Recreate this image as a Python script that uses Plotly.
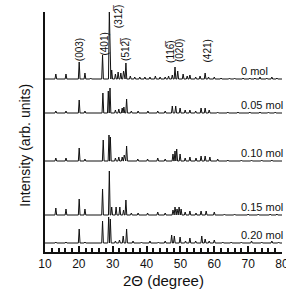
import plotly.graph_objects as go

# ---------------- data ----------------
samples = ["0 mol", "0.05 mol", "0.10 mol", "0.15 mol", "0.20 mol"]
offsets = [173, 139, 91, 37, 9]  # vertical stacking offsets (arb. units)

pos_0 = [13.2, 16.2, 20.1, 21.8, 23.5, 27.0, 29.0, 29.7, 30.8, 31.6, 32.4, 33.2, 33.9, 35.2, 36.5, 38.0,
         39.5, 41.0, 42.6, 44.0, 45.5, 46.5, 47.6, 48.4, 49.2, 50.8, 52.0, 52.8, 54.5, 55.8, 57.3, 58.3,
         60.0, 62.0, 64.5, 66.0, 68.5, 70.5, 72.0, 73.5, 75.5, 77.0, 78.5]
int_0 = [5, 5, 17, 6, 1, 24, 68, 9, 5, 7, 6, 8, 16, 3, 2, 2,
         2, 2, 3, 2, 2, 3, 4, 12, 8, 5, 3, 4, 2, 3, 6, 2,
         2, 1, 1, 1, 1, 1, 1, 2, 1, 2, 1]

pos_005 = [13.2, 16.2, 20.1, 21.8, 27.1, 28.7, 29.2, 30.8, 31.8, 32.8, 33.3, 34.1, 35.5, 37.5, 40.4, 43.3,
           45.5, 47.6, 48.6, 49.9, 51.4, 52.8, 54.5, 56.1, 57.3, 58.5, 61.0, 64.0, 67.0, 70.5, 73.5, 76.0, 78.0]
int_005 = [2, 2, 13, 2, 20, 22, 25, 3, 4, 5, 6, 14, 2, 2, 2, 2,
           2, 7, 7, 5, 3, 3, 2, 5, 5, 3, 1, 1, 1, 1, 1, 1, 1]

pos_010 = [13.2, 16.2, 20.1, 21.8, 27.2, 28.9, 29.3, 30.8, 31.8, 32.8, 33.4, 34.1, 37.4, 40.3, 43.3, 45.5,
           47.8, 48.4, 48.9, 49.9, 51.4, 52.8, 54.6, 56.1, 57.3, 58.7, 61.0, 64.0, 68.0, 71.0, 74.0, 77.0]
int_010 = [3, 3, 13, 2, 21, 26, 24, 3, 4, 4, 6, 15, 2, 2, 3, 2,
           7, 10, 12, 7, 3, 4, 3, 5, 5, 4, 2, 1, 1, 1, 1, 1]

pos_015 = [13.2, 16.2, 20.1, 21.8, 27.0, 29.0, 29.7, 31.0, 32.1, 33.2, 33.9, 35.5, 37.5, 40.3, 43.3, 45.5,
           47.8, 48.4, 49.0, 49.6, 50.2, 51.4, 52.8, 54.6, 56.1, 57.6, 60.0, 63.0, 66.0, 70.0, 73.0, 76.5, 78.5]
int_015 = [7, 6, 16, 6, 26, 44, 8, 8, 8, 5, 15, 2, 2, 2, 3, 2,
           5, 8, 6, 8, 6, 3, 4, 2, 4, 4, 3, 1, 1, 1, 1, 1, 1]

pos_020 = [13.2, 16.2, 20.1, 21.8, 27.0, 28.8, 29.3, 30.8, 32.0, 33.1, 34.1, 36.0, 38.5, 41.0, 43.5, 45.5,
           47.4, 48.2, 49.9, 51.5, 52.8, 54.5, 56.3, 57.3, 58.5, 60.0, 62.5, 65.0, 68.0, 71.0, 74.0, 77.0, 79.0]
int_020 = [1, 1, 14, 1, 22, 26, 24, 2, 3, 7, 14, 2, 1, 2, 1, 2,
           8, 7, 6, 2, 5, 2, 7, 4, 2, 3, 1, 1, 1, 2, 1, 2, 1]

peak_positions = [pos_0, pos_005, pos_010, pos_015, pos_020]
peak_heights = [int_0, int_005, int_010, int_015, int_020]

hkl_labels = ["(003)", "(401)", "(312\u0305)", "(512\u0305)", "(116\u0305)", "(020)", "(421)"]
hkl_x = [20.1, 27.3, 31.6, 33.6, 46.9, 49.6, 57.7]
hkl_y = [202, 208, 235, 203, 201, 201, 201]

x_range = [10, 80]
x_ticks = [10, 20, 30, 40, 50, 60, 70, 80]

FONT = "Arial, 'Liberation Sans', sans-serif"
HALF_W = 0.25  # half width of a drawn peak (degrees)

fig = go.Figure()
for name, off, ps, hs in zip(samples, offsets, peak_positions, peak_heights):
    xs, ys = [x_range[0]], [off]
    for p, h in sorted(zip(ps, hs)):
        xs += [p - HALF_W, p, p + HALF_W]
        ys += [off, off + h, off]
    xs.append(x_range[1])
    ys.append(off)
    fig.add_trace(go.Scatter(x=xs, y=ys, mode="lines", name=name,
                             line=dict(color="#111111", width=1), showlegend=False))
    fig.add_annotation(x=67.4, y=off + 8, text=name, showarrow=False, xanchor="left",
                       yanchor="middle", font=dict(family=FONT, size=11, color="#111111"))

for lab, lx, ly in zip(hkl_labels, hkl_x, hkl_y):
    fig.add_annotation(x=lx, y=ly, text=lab, textangle=-90, showarrow=False,
                       xanchor="center", yanchor="middle",
                       font=dict(family=FONT, size=10, color="#111111"))

fig.add_annotation(xref="paper", yref="paper", x=0.5, y=-0.117, text="2\u0398 (degree)",
                   showarrow=False, xanchor="center", yanchor="middle",
                   font=dict(family=FONT, size=15, color="#111111"))
fig.add_annotation(xref="paper", yref="paper", x=-0.085, y=0.446, text="Intensity (arb. units)",
                   textangle=-90, showarrow=False, xanchor="center", yanchor="middle",
                   font=dict(family=FONT, size=14, color="#111111"))

fig.update_layout(
    width=286, height=292,
    margin=dict(l=45, r=4, t=12, b=40, autoexpand=False),
    paper_bgcolor="white", plot_bgcolor="white",
    font=dict(family=FONT, color="#111111"),
    xaxis=dict(range=x_range, tickvals=x_ticks, ticks="inside", ticklen=6, tickwidth=1.5,
               tickcolor="#111111", showline=True, linecolor="#111111", linewidth=2,
               showgrid=False, zeroline=False, tickfont=dict(size=12), ticklabeloverflow="allow",
               automargin=False,
               minor=dict(dtick=2, ticks="inside", ticklen=4, tickwidth=1.5, tickcolor="#111111")),
    yaxis=dict(range=[0, 240], showticklabels=False, ticks="", showline=True, automargin=False,
               linecolor="#111111", linewidth=2, showgrid=False, zeroline=False),
)

fig.write_html("out.html")
